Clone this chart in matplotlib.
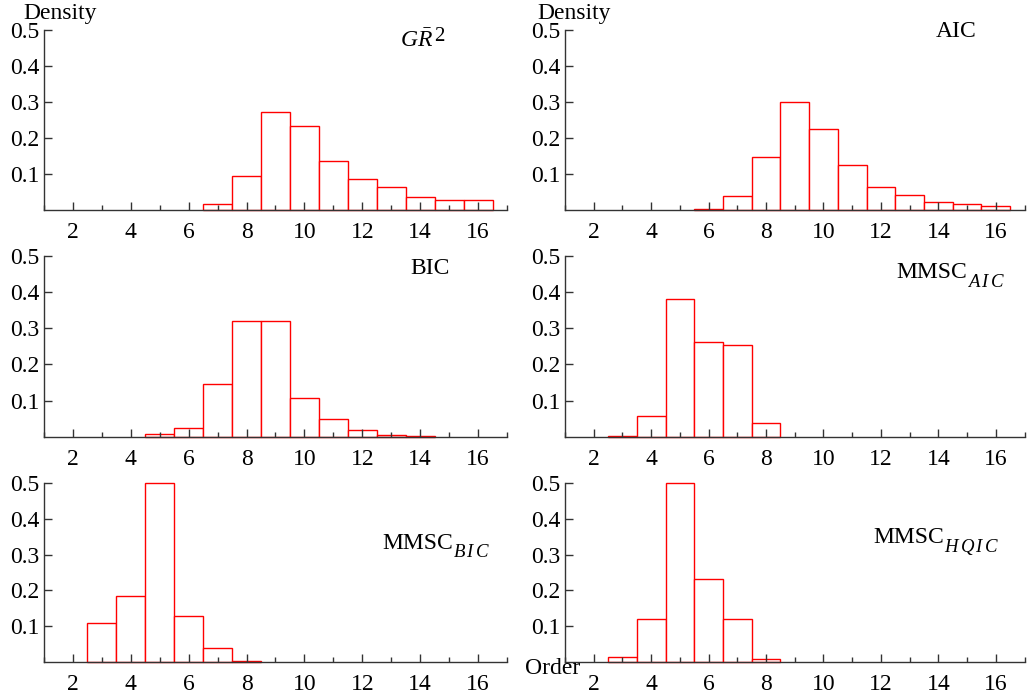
import numpy as np
import matplotlib
matplotlib.use("Agg")
import matplotlib.pyplot as plt

plt.rcParams['font.family'] = ['Liberation Serif', 'DejaVu Serif']
plt.rcParams['mathtext.fontset'] = 'custom'
plt.rcParams['mathtext.rm'] = 'Liberation Serif'
plt.rcParams['mathtext.it'] = 'Liberation Serif:italic'
plt.rcParams['font.size'] = 17

W, H = 1027, 697

# histogram of selected order, one panel per criterion
orders_gr2 = [7, 8, 9, 10, 11, 12, 13, 14, 15, 16]
dens_gr2 = [0.017, 0.095, 0.271, 0.232, 0.136, 0.086, 0.063, 0.037, 0.029, 0.029]

orders_aic = [6, 7, 8, 9, 10, 11, 12, 13, 14, 15, 16]
dens_aic = [0.004, 0.038, 0.148, 0.299, 0.225, 0.126, 0.065, 0.043, 0.021, 0.016, 0.012]

orders_bic = [5, 6, 7, 8, 9, 10, 11, 12, 13, 14]
dens_bic = [0.007, 0.025, 0.146, 0.321, 0.319, 0.106, 0.048, 0.018, 0.005, 0.002]

orders_maic = [3, 4, 5, 6, 7, 8]
dens_maic = [0.002, 0.057, 0.380, 0.261, 0.253, 0.039]

orders_mbic = [3, 4, 5, 6, 7, 8]
dens_mbic = [0.110, 0.183, 0.500, 0.129, 0.040, 0.002]

orders_mhqic = [3, 4, 5, 6, 7, 8]
dens_mhqic = [0.015, 0.119, 0.500, 0.232, 0.120, 0.007]

# label = main part + raised/lowered part (Mathematica style)
main_txt = [r"$G\bar{R}$", "AIC", "BIC", "MMSC", "MMSC", "MMSC"]
side_txt = ["2", "", "", r"$A\,I\,C$", r"$B\,I\,C$", r"$H\,Q\,I\,C$"]
orders = [orders_gr2, orders_aic, orders_bic, orders_maic, orders_mbic, orders_mhqic]
dens = [dens_gr2, dens_aic, dens_bic, dens_maic, dens_mbic, dens_mhqic]

# panel boxes in pixels: (left, right, top, bottom)
cols = [(44, 507), (565, 1024.5)]
rows = [(30, 210), (256, 436.7), (483, 662)]
# label anchor (left edge, baseline) in pixels
label_pos = [(400, 46.7), (936, 37.3), (410, 274.3), (896, 277.5), (382, 549), (873, 543)]
side_shift = [-6, 0, 0, 9, 8, 9]   # baseline shift of side part, px (down > 0)
side_gap = [1, 0, 0, 0, 0, 0]
side_size = [15, 13.5, 13.5, 13.5, 13.5, 13.5]

fig = plt.figure(figsize=(W / 100, H / 100), dpi=100)
renderer = fig.canvas.get_renderer()

for i in range(6):
    r, c = divmod(i, 2)
    l, rr = cols[c]
    t, b = rows[r]
    ax = fig.add_axes([l / W, 1 - b / H, (rr - l) / W, (b - t) / H])
    ax.bar(orders[i], dens[i], width=1, facecolor='white', edgecolor='red',
           linewidth=1, clip_on=False)
    ax.set_xlim(1, 17)
    ax.set_ylim(0, 0.5)
    for s in ['top', 'right']:
        ax.spines[s].set_visible(False)
    for s in ['left', 'bottom']:
        ax.spines[s].set_color('#333333')
        ax.spines[s].set_linewidth(1)
    ax.set_xticks(range(2, 17, 2))
    ax.set_xticks(range(1, 18, 2), minor=True)
    ax.set_yticks([0.1, 0.2, 0.3, 0.4, 0.5])
    ax.set_yticklabels(['0.1', '0.2', '0.3', '0.4', '0.5'])
    ax.tick_params(axis='both', which='major', direction='in', length=6,
                   width=1, color='#333333', labelsize=17)
    ax.tick_params(axis='x', which='major', pad=9)
    ax.tick_params(axis='y', which='major', pad=3)
    ax.tick_params(axis='x', which='minor', direction='in', length=3.5,
                   width=1, color='#333333')
    ax.patch.set_visible(False)

    x, y = label_pos[i]
    tm = fig.text(x / W, 1 - y / H, main_txt[i], ha='left', va='baseline', fontsize=17)
    if side_txt[i]:
        bb = tm.get_window_extent(renderer)
        fig.text((bb.x1 + side_gap[i]) / W, 1 - (y + side_shift[i]) / H, side_txt[i],
                 ha='left', va='baseline', fontsize=side_size[i])

fig.text(23 / W, 1 - 18.5 / H, "Density", ha='left', va='baseline', fontsize=17)
fig.text(537 / W, 1 - 18.5 / H, "Density", ha='left', va='baseline', fontsize=17)
fig.text(525 / W, 1 - 674 / H, "Order", ha='left', va='baseline', fontsize=17)

fig.savefig("out.png", dpi=100)
